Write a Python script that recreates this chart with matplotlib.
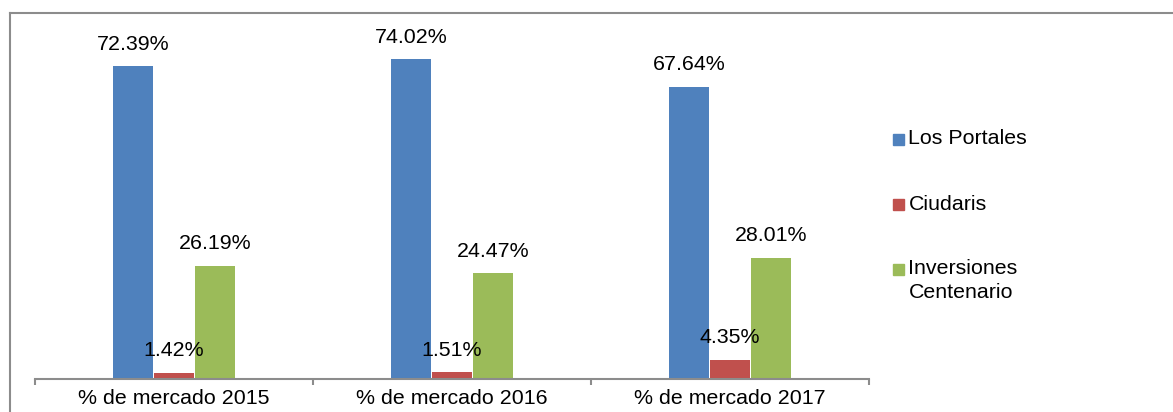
import matplotlib.pyplot as plt
import numpy as np
from matplotlib.patches import Rectangle
from matplotlib.lines import Line2D

plt.rcParams['font.family'] = ['Liberation Sans', 'DejaVu Sans']

categories = ["% de mercado 2015", "% de mercado 2016", "% de mercado 2017"]
series_names = ["Los Portales", "Ciudaris", "Inversiones\nCentenario"]
los_portales = [72.39, 74.02, 67.64]
ciudaris = [1.42, 1.51, 4.35]
inversiones = [26.19, 24.47, 28.01]
colors = ["#4F81BD", "#C0504D", "#9BBB59"]

W, H = 1173, 412
FS = 15.4
fig = plt.figure(figsize=(W / 100, H / 100), dpi=100)
ax = fig.add_axes([35 / W, 33 / H, 834 / W, 345.6 / H])

x = np.arange(len(categories))
width = 0.147
all_series = [los_portales, ciudaris, inversiones]
for i, vals in enumerate(all_series):
    offs = (i - 1) * width
    bars = ax.bar(x + offs, vals, width * 0.97, color=colors[i], label=series_names[i])
    for b, v in zip(bars, vals):
        ax.annotate(f"{v:.2f}%", (b.get_x() + b.get_width() / 2, v),
                    xytext=(0, 16), textcoords="offset points",
                    ha="center", va="center", fontsize=FS)

ax.set_xlim(-0.5, 2.5)
ax.set_ylim(0, 80)
for s in ["top", "right", "left"]:
    ax.spines[s].set_visible(False)
ax.spines["bottom"].set_color("#8c8c8c")
ax.spines["bottom"].set_linewidth(1.5)
ax.set_yticks([])
ax.set_xticks([-0.5, 0.5, 1.5, 2.5])
ax.set_xticklabels([])
ax.tick_params(axis="x", which="major", length=4, width=1.5, color="#8c8c8c")
ax.set_xticks(x, minor=True)
ax.set_xticklabels(categories, minor=True, fontsize=FS)
ax.tick_params(axis="x", which="minor", length=0, pad=7.5)

# outer chart frame (only top and left visible in crop)
frame_col = "#8c8c8c"
fig.add_artist(Line2D([10 / W, 1.2], [1 - 12.5 / H, 1 - 12.5 / H], color=frame_col, lw=1.5,
                      transform=fig.transFigure))
fig.add_artist(Line2D([10 / W, 10 / W], [1 - 12.5 / H, -0.2], color=frame_col, lw=1.5,
                      transform=fig.transFigure))

# legend
rows_y = [139, 204, 269]
for name, col, yy in zip(series_names, colors, rows_y):
    fig.add_artist(Rectangle((893 / W, 1 - (yy + 5.5) / H), 11 / W, 11 / H,
                             color=col, transform=fig.transFigure))
    for k, line in enumerate(name.split("\n")):
        fig.text(908.5 / W, 1 - (yy + 24 * k) / H, line, fontsize=FS, va="center", ha="left")

fig.savefig("out.png", dpi=100)
